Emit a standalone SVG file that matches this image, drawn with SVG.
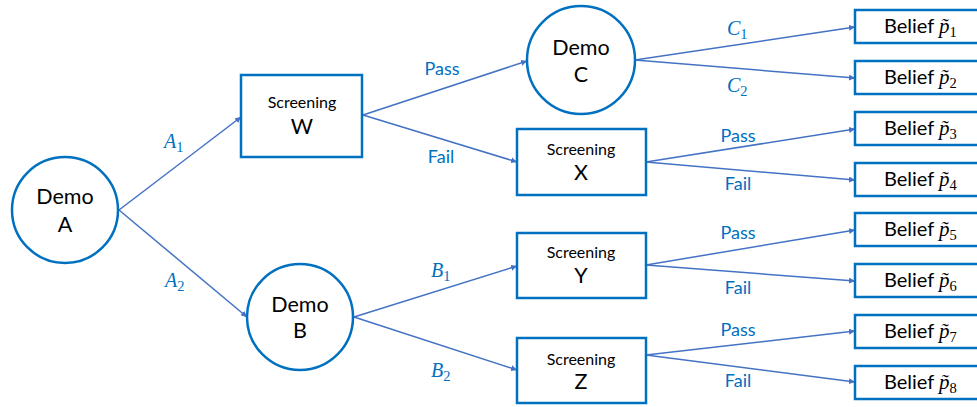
<svg xmlns="http://www.w3.org/2000/svg" width="977" height="407" viewBox="0 0 977 407">
  <style>
    .node { fill: #ffffff; stroke: #0070C0; stroke-width: 2.5; }
    .edge { fill: none; stroke: #4472C4; stroke-width: 1.5; marker-end: url(#arrow); }
    .t { font-family: "Lato", "Liberation Sans", sans-serif; fill: #000000; text-anchor: middle; }
    .big { font-size: 21.5px; }
    .small { font-size: 16px; }
    .belief { font-size: 20px; text-anchor: start; }
    .lbl { font-family: "Lato", "Liberation Sans", sans-serif; font-size: 18px; fill: #0070C0; text-anchor: middle; }
    .math { font-family: "Liberation Serif", "DejaVu Serif", serif; font-style: italic; font-size: 20px; fill: #0070C0; }
    .mathb { font-family: "Liberation Serif", "DejaVu Serif", serif; font-style: italic; font-size: 21px; fill: #000000; }
    .sub { font-style: normal; font-size: 14.5px; }
  </style>
  <defs>
    <marker id="arrow" viewBox="0 0 10 10" refX="10" refY="5" markerWidth="6" markerHeight="6" markerUnits="userSpaceOnUse" orient="auto">
      <path d="M0,0 L10,5 L0,10 z" fill="#4472C4"/>
    </marker>
  </defs>

  <!-- connectors -->
  <g id="connectors">
    <line class="edge" x1="119" y1="210" x2="241" y2="117"/>
    <line class="edge" x1="119" y1="210" x2="247" y2="317"/>
    <line class="edge" x1="363" y1="115" x2="527" y2="61"/>
    <line class="edge" x1="363" y1="115" x2="517" y2="162"/>
    <line class="edge" x1="354" y1="317" x2="517" y2="266"/>
    <line class="edge" x1="354" y1="317" x2="517" y2="370"/>
    <line class="edge" x1="635" y1="60" x2="855" y2="27"/>
    <line class="edge" x1="635" y1="60" x2="855" y2="78"/>
    <line class="edge" x1="646" y1="162" x2="855" y2="129"/>
    <line class="edge" x1="646" y1="162" x2="855" y2="180"/>
    <line class="edge" x1="646" y1="265" x2="855" y2="230"/>
    <line class="edge" x1="646" y1="265" x2="855" y2="281"/>
    <line class="edge" x1="646" y1="355" x2="855" y2="331"/>
    <line class="edge" x1="646" y1="355" x2="855" y2="382"/>

    <text class="math" x="164" y="148">A<tspan class="sub" dy="4">1</tspan></text>
    <text class="math" x="165" y="287">A<tspan class="sub" dy="4">2</tspan></text>
    <text class="lbl" x="442" y="75">Pass</text>
    <text class="lbl" x="441" y="163">Fail</text>
    <text class="math" x="431" y="277">B<tspan class="sub" dy="4">1</tspan></text>
    <text class="math" x="431" y="377">B<tspan class="sub" dy="4">2</tspan></text>
    <text class="math" x="727" y="35">C<tspan class="sub" dy="4">1</tspan></text>
    <text class="math" x="727" y="92">C<tspan class="sub" dy="4">2</tspan></text>
    <text class="lbl" x="738" y="142">Pass</text>
    <text class="lbl" x="738" y="190">Fail</text>
    <text class="lbl" x="738" y="239">Pass</text>
    <text class="lbl" x="738" y="294">Fail</text>
    <text class="lbl" x="738" y="336">Pass</text>
    <text class="lbl" x="738" y="387">Fail</text>
  </g>

  <!-- demo nodes -->
  <g id="demo-a">
    <circle class="node" cx="65" cy="210" r="53"/>
    <text class="t big" x="65" y="204">Demo</text>
    <text class="t big" x="65" y="232">A</text>
  </g>
  <g id="demo-b">
    <circle class="node" cx="300" cy="317" r="53"/>
    <text class="t big" x="300" y="312">Demo</text>
    <text class="t big" x="300" y="338">B</text>
  </g>
  <g id="demo-c">
    <circle class="node" cx="581" cy="60" r="54"/>
    <text class="t big" x="581" y="55">Demo</text>
    <text class="t big" x="581" y="82">C</text>
  </g>

  <!-- screening nodes -->
  <g id="screening-w">
    <rect class="node" x="241" y="75" width="121" height="82"/>
    <text class="t small" x="302" y="108">Screening</text>
    <text class="t big" x="302" y="134">W</text>
  </g>
  <g id="screening-x">
    <rect class="node" x="517" y="129" width="129" height="66"/>
    <text class="t small" x="581" y="155">Screening</text>
    <text class="t big" x="581" y="180">X</text>
  </g>
  <g id="screening-y">
    <rect class="node" x="517" y="233" width="129" height="65"/>
    <text class="t small" x="581" y="258">Screening</text>
    <text class="t big" x="581" y="283">Y</text>
  </g>
  <g id="screening-z">
    <rect class="node" x="517" y="338" width="129" height="65"/>
    <text class="t small" x="581" y="365">Screening</text>
    <text class="t big" x="581" y="389">Z</text>
  </g>

  <!-- belief leaves -->
  <g id="belief-1">
    <rect class="node" x="855" y="10" width="140" height="33"/>
    <text class="t belief" x="884" y="33">Belief <tspan class="mathb">p̃<tspan class="sub" dy="4">1</tspan></tspan></text>
  </g>
  <g id="belief-2">
    <rect class="node" x="855" y="61" width="140" height="33"/>
    <text class="t belief" x="884" y="84">Belief <tspan class="mathb">p̃<tspan class="sub" dy="4">2</tspan></tspan></text>
  </g>
  <g id="belief-3">
    <rect class="node" x="855" y="112" width="140" height="33"/>
    <text class="t belief" x="884" y="135">Belief <tspan class="mathb">p̃<tspan class="sub" dy="4">3</tspan></tspan></text>
  </g>
  <g id="belief-4">
    <rect class="node" x="855" y="163" width="140" height="33"/>
    <text class="t belief" x="884" y="186">Belief <tspan class="mathb">p̃<tspan class="sub" dy="4">4</tspan></tspan></text>
  </g>
  <g id="belief-5">
    <rect class="node" x="855" y="213" width="140" height="33"/>
    <text class="t belief" x="884" y="236">Belief <tspan class="mathb">p̃<tspan class="sub" dy="4">5</tspan></tspan></text>
  </g>
  <g id="belief-6">
    <rect class="node" x="855" y="264" width="140" height="33"/>
    <text class="t belief" x="884" y="287">Belief <tspan class="mathb">p̃<tspan class="sub" dy="4">6</tspan></tspan></text>
  </g>
  <g id="belief-7">
    <rect class="node" x="855" y="315" width="140" height="33"/>
    <text class="t belief" x="884" y="338">Belief <tspan class="mathb">p̃<tspan class="sub" dy="4">7</tspan></tspan></text>
  </g>
  <g id="belief-8">
    <rect class="node" x="855" y="366" width="140" height="33"/>
    <text class="t belief" x="884" y="389">Belief <tspan class="mathb">p̃<tspan class="sub" dy="4">8</tspan></tspan></text>
  </g>
</svg>
